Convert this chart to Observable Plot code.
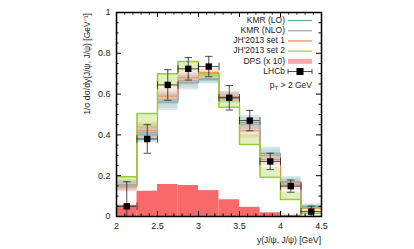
<!DOCTYPE html>
<html><head><meta charset="utf-8">
<script src="https://cdn.jsdelivr.net/npm/d3@7"></script>
<script src="https://cdn.jsdelivr.net/npm/@observablehq/plot@0.6"></script>
<style>body{margin:0;background:#fff}svg{display:block}</style>
</head><body><div id="chart"></div>
<script>
// bins in y(J/psi,J/psi)
const binLo = [2.0, 2.25, 2.5, 2.75, 3.0, 3.25, 3.5, 3.75, 4.0, 4.25];
const binHi = [2.25, 2.5, 2.75, 3.0, 3.25, 3.5, 3.75, 4.0, 4.25, 4.5];
// LHCb data
const lhcb = [0.05, 0.38, 0.645, 0.724, 0.735, 0.582, 0.47, 0.27, 0.149, 0.024];
const lhcbErr = [0.12, 0.07, 0.075, 0.055, 0.05, 0.06, 0.05, 0.04, 0.03, 0.027];
// DPS (x10)
const dps = [0.055, 0.124, 0.157, 0.152, 0.127, 0.082, 0.045, 0.018, 0.006, 0.002];
// theory
const kmrLO = [0.155, 0.40, 0.56, 0.655, 0.67, 0.58, 0.46, 0.31, 0.17, 0.05];
const kmrNLO = [0.15, 0.41, 0.57, 0.665, 0.676, 0.585, 0.45, 0.30, 0.165, 0.045];
const jh1 = [0.145, 0.42, 0.59, 0.68, 0.705, 0.588, 0.42, 0.28, 0.155, 0.04];
const jh2 = [0.195, 0.505, 0.70, 0.76, 0.70, 0.535, 0.353, 0.193, 0.083, 0.015];
const bandHalf = [0.025, 0.04, 0.04, 0.035, 0.02, 0.025, 0.035, 0.03, 0.025, 0.012];
const jh2BandLo = [0.165, 0.43, 0.635, 0.715, 0.68, 0.535, 0.353, 0.193, 0.083, 0.015];
const jh2BandHi = [0.195, 0.505, 0.70, 0.76, 0.71, 0.57, 0.40, 0.24, 0.12, 0.03];
// ticks
const xTicks = [2, 2.5, 3, 3.5, 4, 4.5];
const yTicks = [0, 0.2, 0.4, 0.6, 0.8, 1];

const colLO = "#5fa8ac", colNLO = "#a0a0a0", colJH1 = "#f08a5d", colJH2 = "#9ccc2e", colDPS = "#f86a6a";

const bins = binLo.map((lo, i) => ({lo, hi: binHi[i], mid: (lo + binHi[i]) / 2, i}));
const steps = vals => bins.flatMap(b => [{x: b.lo, y: vals[b.i]}, {x: b.hi, y: vals[b.i]}]);
const xMinor = d3.range(20, 46).map(v => v / 10).filter(v => !xTicks.some(t => Math.abs(t - v) < 1e-9));
const yMinor = d3.range(0, 21).map(v => v / 20).filter(v => !yTicks.some(t => Math.abs(t - v) < 1e-9));

const W = 414, H = 249, mL = 116, mR = 93, mT = 12, mB = 33;
const pxX = 2.5 / (W - mL - mR), pxY = 1 / (H - mT - mB);

const band = (vals, color, op) => Plot.rectY(bins, {x1: "lo", x2: "hi", y1: b => vals[b.i] - bandHalf[b.i], y2: b => vals[b.i] + bandHalf[b.i], fill: color, fillOpacity: op});

const capH = {draw(ctx, size) { const r = Math.sqrt(size) * 0.6; ctx.moveTo(-r, 0); ctx.lineTo(r, 0); }};
const capV = {draw(ctx, size) { const r = Math.sqrt(size) * 0.6; ctx.moveTo(0, -r); ctx.lineTo(0, r); }};

const plot = Plot.plot({
  width: W, height: H,
  marginLeft: mL, marginRight: mR, marginTop: mT, marginBottom: mB,
  style: {fontFamily: "'Liberation Sans', Arial, sans-serif", fontSize: "9px", background: "#fff"},
  x: {domain: [2, 4.5]},
  y: {domain: [0, 1]},
  marks: [
    Plot.rectY(bins, {x1: "lo", x2: "hi", y: b => dps[b.i], fill: colDPS}),
    band(kmrLO, colLO, 0.25),
    band(kmrNLO, colNLO, 0.2),
    band(jh1, colJH1, 0.25),
    Plot.rectY(bins, {x1: "lo", x2: "hi", y1: b => jh2BandLo[b.i], y2: b => jh2BandHi[b.i], fill: colJH2, fillOpacity: 0.3}),
    Plot.line(steps(kmrLO), {x: "x", y: "y", stroke: colLO, strokeWidth: 1}),
    Plot.line(steps(kmrNLO), {x: "x", y: "y", stroke: colNLO, strokeWidth: 1}),
    Plot.line(steps(jh1), {x: "x", y: "y", stroke: colJH1, strokeWidth: 1}),
    Plot.line(steps(jh2), {x: "x", y: "y", stroke: colJH2, strokeWidth: 1.5}),
    // LHCb error bars
    Plot.ruleX(bins, {x: "mid", y1: b => Math.max(0, lhcb[b.i] - lhcbErr[b.i]), y2: b => lhcb[b.i] + lhcbErr[b.i], stroke: "#222", strokeWidth: 0.8}),
    Plot.ruleY(bins, {y: b => lhcb[b.i], x1: "lo", x2: "hi", stroke: "#222", strokeWidth: 0.8}),
    Plot.dot(bins, {x: "mid", y: b => lhcb[b.i] + lhcbErr[b.i], symbol: capH, r: 3.5, stroke: "#222", strokeWidth: 0.8}),
    Plot.dot(bins.filter(b => lhcb[b.i] - lhcbErr[b.i] > 0), {x: "mid", y: b => lhcb[b.i] - lhcbErr[b.i], symbol: capH, r: 3.5, stroke: "#222", strokeWidth: 0.8}),
    Plot.dot(bins, {x: "lo", y: b => lhcb[b.i], symbol: capV, r: 3.5, stroke: "#222", strokeWidth: 0.8}),
    Plot.dot(bins, {x: "hi", y: b => lhcb[b.i], symbol: capV, r: 3.5, stroke: "#222", strokeWidth: 0.8}),
    Plot.dot(bins, {x: "mid", y: b => lhcb[b.i], symbol: "square", r: 3.6, fill: "#000", stroke: "none"}),
    // inward ticks
    Plot.ruleX(xTicks, {x: d => d, y1: 0, y2: 5 * pxY, stroke: "#000"}),
    Plot.ruleX(xTicks, {x: d => d, y1: 1, y2: 1 - 5 * pxY, stroke: "#000"}),
    Plot.ruleX(xMinor, {x: d => d, y1: 0, y2: 2.5 * pxY, stroke: "#000"}),
    Plot.ruleX(xMinor, {x: d => d, y1: 1, y2: 1 - 2.5 * pxY, stroke: "#000"}),
    Plot.ruleY(yTicks, {y: d => d, x1: 2, x2: 2 + 5 * pxX, stroke: "#000"}),
    Plot.ruleY(yTicks, {y: d => d, x1: 4.5, x2: 4.5 - 5 * pxX, stroke: "#000"}),
    Plot.ruleY(yMinor, {y: d => d, x1: 2, x2: 2 + 2.5 * pxX, stroke: "#000"}),
    Plot.ruleY(yMinor, {y: d => d, x1: 4.5, x2: 4.5 - 2.5 * pxX, stroke: "#000"}),
    Plot.axisX({ticks: xTicks, tickSize: 0, tickPadding: 6, label: null, tickFormat: d => String(d), fontSize: 9, fill: "#222"}),
    Plot.axisY({ticks: yTicks, tickSize: 0, tickPadding: 6, label: null, tickFormat: d => String(d), fontSize: 9, fill: "#222"}),
    Plot.frame({stroke: "#000", strokeWidth: 1.5})
  ]
});
document.getElementById("chart").appendChild(plot);

const svg = d3.select(plot);
// axis titles
svg.append("text").attr("transform", "translate(88,64) rotate(-90)").attr("text-anchor", "middle")
  .attr("dominant-baseline", "middle").attr("font-size", 8.5).attr("fill", "#222")
  .text("1/σ dσ/dy(J/ψ, J/ψ) [GeV⁻¹]");
svg.append("text").attr("x", 321).attr("y", 243).attr("text-anchor", "end").attr("font-size", 8.5).attr("fill", "#222")
  .text("y(J/ψ, J/ψ) [GeV]");
// legend
const legendNames = ["KMR (LO)", "KMR (NLO)", "JH'2013 set 1", "JH'2013 set 2", "DPS (x 10)", "LHCb"];
const legendCols = [colLO, colNLO, colJH1, colJH2, "#ffa8a8", "#000"];
legendNames.forEach((name, i) => {
  const y = 20.5 + i * 10.2;
  svg.append("text").attr("x", 285).attr("y", y).attr("text-anchor", "end").attr("dominant-baseline", "middle")
    .attr("font-size", 8.5).attr("fill", "#222").text(name);
  if (i < 4) svg.append("line").attr("x1", 288).attr("x2", 312).attr("y1", y).attr("y2", y).attr("stroke", legendCols[i]).attr("stroke-width", 1.2);
  else if (i === 4) svg.append("rect").attr("x", 288).attr("y", y - 2.5).attr("width", 24).attr("height", 5).attr("fill", legendCols[i]);
  else {
    svg.append("line").attr("x1", 288).attr("x2", 312).attr("y1", y).attr("y2", y).attr("stroke", "#222").attr("stroke-width", 0.8);
    svg.append("line").attr("x1", 288).attr("x2", 288).attr("y1", y - 2.5).attr("y2", y + 2.5).attr("stroke", "#222").attr("stroke-width", 0.8);
    svg.append("line").attr("x1", 312).attr("x2", 312).attr("y1", y - 2.5).attr("y2", y + 2.5).attr("stroke", "#222").attr("stroke-width", 0.8);
    svg.append("rect").attr("x", 296.5).attr("y", y - 3.5).attr("width", 7).attr("height", 7).attr("fill", "#000");
  }
});
const pt = svg.append("text").attr("x", 312).attr("y", 86).attr("text-anchor", "end").attr("dominant-baseline", "middle")
  .attr("font-size", 8.5).attr("fill", "#222");
pt.append("tspan").text("p");
pt.append("tspan").attr("font-size", 6).attr("dy", 2).text("T");
pt.append("tspan").attr("dy", -2).text(" > 2 GeV");
</script>
</body></html>
